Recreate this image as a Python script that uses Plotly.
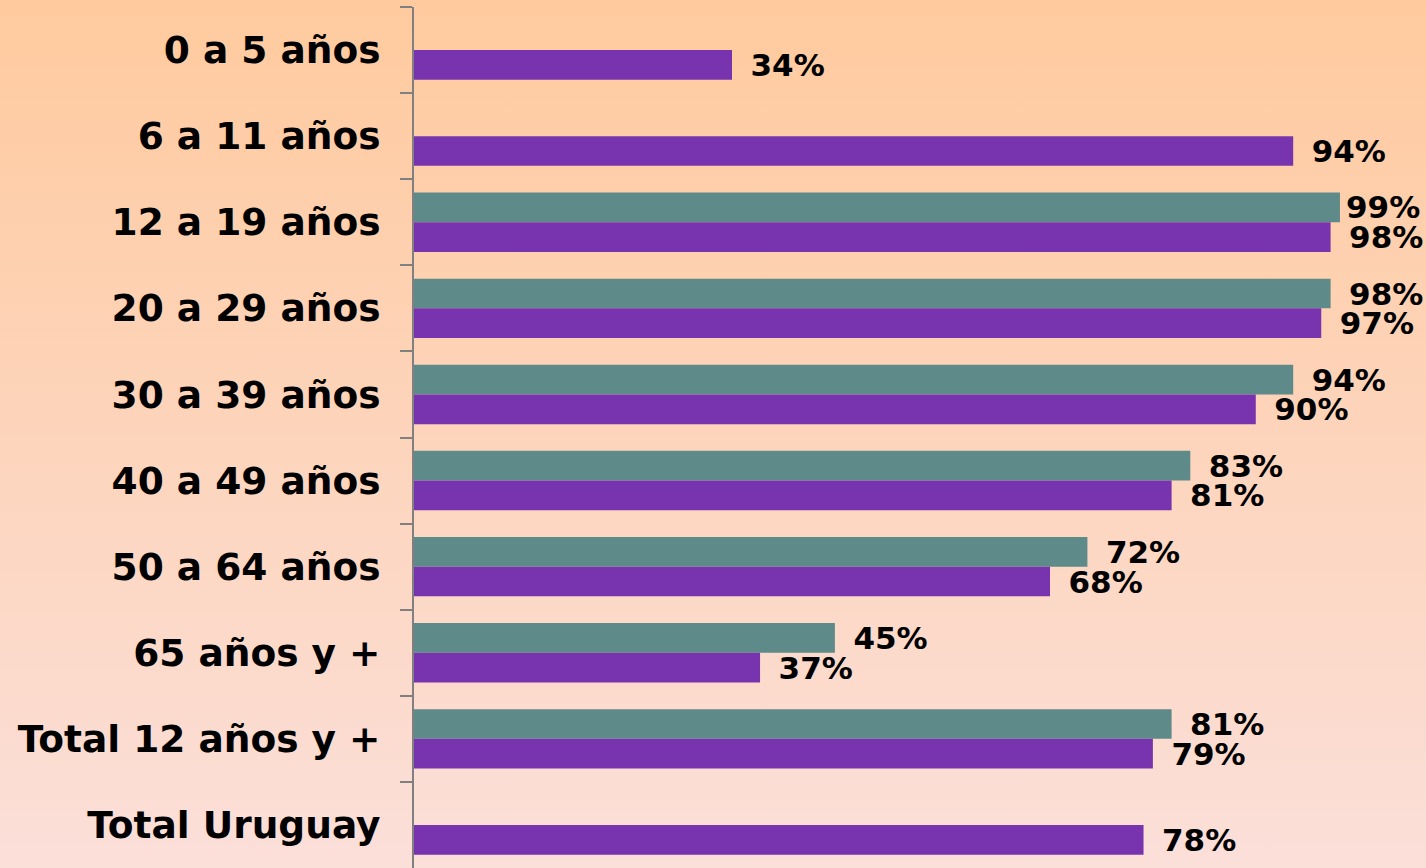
import base64
import plotly.graph_objects as go

categories = ["0 a 5 años", "6 a 11 años", "12 a 19 años", "20 a 29 años", "30 a 39 años",
              "40 a 49 años", "50 a 64 años", "65 años y +", "Total 12 años y +", "Total Uruguay"]
serie_verde = [None, None, 99, 98, 94, 83, 72, 45, 81, None]
serie_violeta = [34, 94, 98, 97, 90, 81, 68, 37, 79, 78]

W, H = 1426, 868
ML, MT = 414, 7
PW, PH = W - ML, H - MT

FONT = "DejaVu Sans"
svg = ("<svg xmlns='http://www.w3.org/2000/svg' width='100' height='100' preserveAspectRatio='none'>"
       "<defs><linearGradient id='g' x1='0' y1='0' x2='0' y2='1'>"
       "<stop offset='0' stop-color='#FFCA9E'/><stop offset='1' stop-color='#FBDFD9'/>"
       "</linearGradient></defs><rect width='100' height='100' fill='url(#g)'/></svg>")
bg = "data:image/svg+xml;base64," + base64.b64encode(svg.encode()).decode()

XMAX = 108.2


def templates(vals):
    # labels close to the right edge get a tighter gap so they stay inside the chart
    out = []
    for v in vals:
        if v is not None and v >= 99:
            out.append("\u200a%{x}%")
        else:
            out.append("\u2002%{x}%")
    return out


fig = go.Figure()
for vals, color in ((serie_verde, "#5F8A8A"), (serie_violeta, "#7834AE")):
    fig.add_trace(go.Bar(
        y=categories, x=vals, orientation="h",
        marker=dict(color=color, line=dict(width=0)),
        texttemplate=templates(vals), textposition="outside", cliponaxis=False,
        constraintext="none",
        textfont=dict(family=FONT, size=31, color="black", weight="bold"),
    ))

fig.update_layout(
    width=W, height=H,
    margin=dict(l=ML, r=0, t=MT, b=0, pad=0),
    barmode="group", bargap=0.31, bargroupgap=0,
    showlegend=False,
    paper_bgcolor="#FDD3B8",
    plot_bgcolor="rgba(0,0,0,0)",
    images=[dict(source=bg, xref="paper", yref="paper",
                 x=-ML / PW, y=1 + MT / PH, sizex=W / PW, sizey=H / PH,
                 xanchor="left", yanchor="top", sizing="stretch", layer="below")],
    xaxis=dict(range=[0, XMAX], visible=False, fixedrange=True),
    yaxis=dict(
        autorange="reversed", type="category",
        showline=True, linecolor="#808080", linewidth=2,
        ticks="outside", tickson="boundaries", ticklen=12, tickwidth=2, tickcolor="#808080",
        ticklabelstandoff=24,
        tickfont=dict(family=FONT, size=37.5, color="black", weight="bold"),
        showgrid=False, zeroline=False, fixedrange=True,
    ),
)

fig.write_html("out.html", config={"displayModeBar": False},
               post_script="document.body.style.margin='0px';")
